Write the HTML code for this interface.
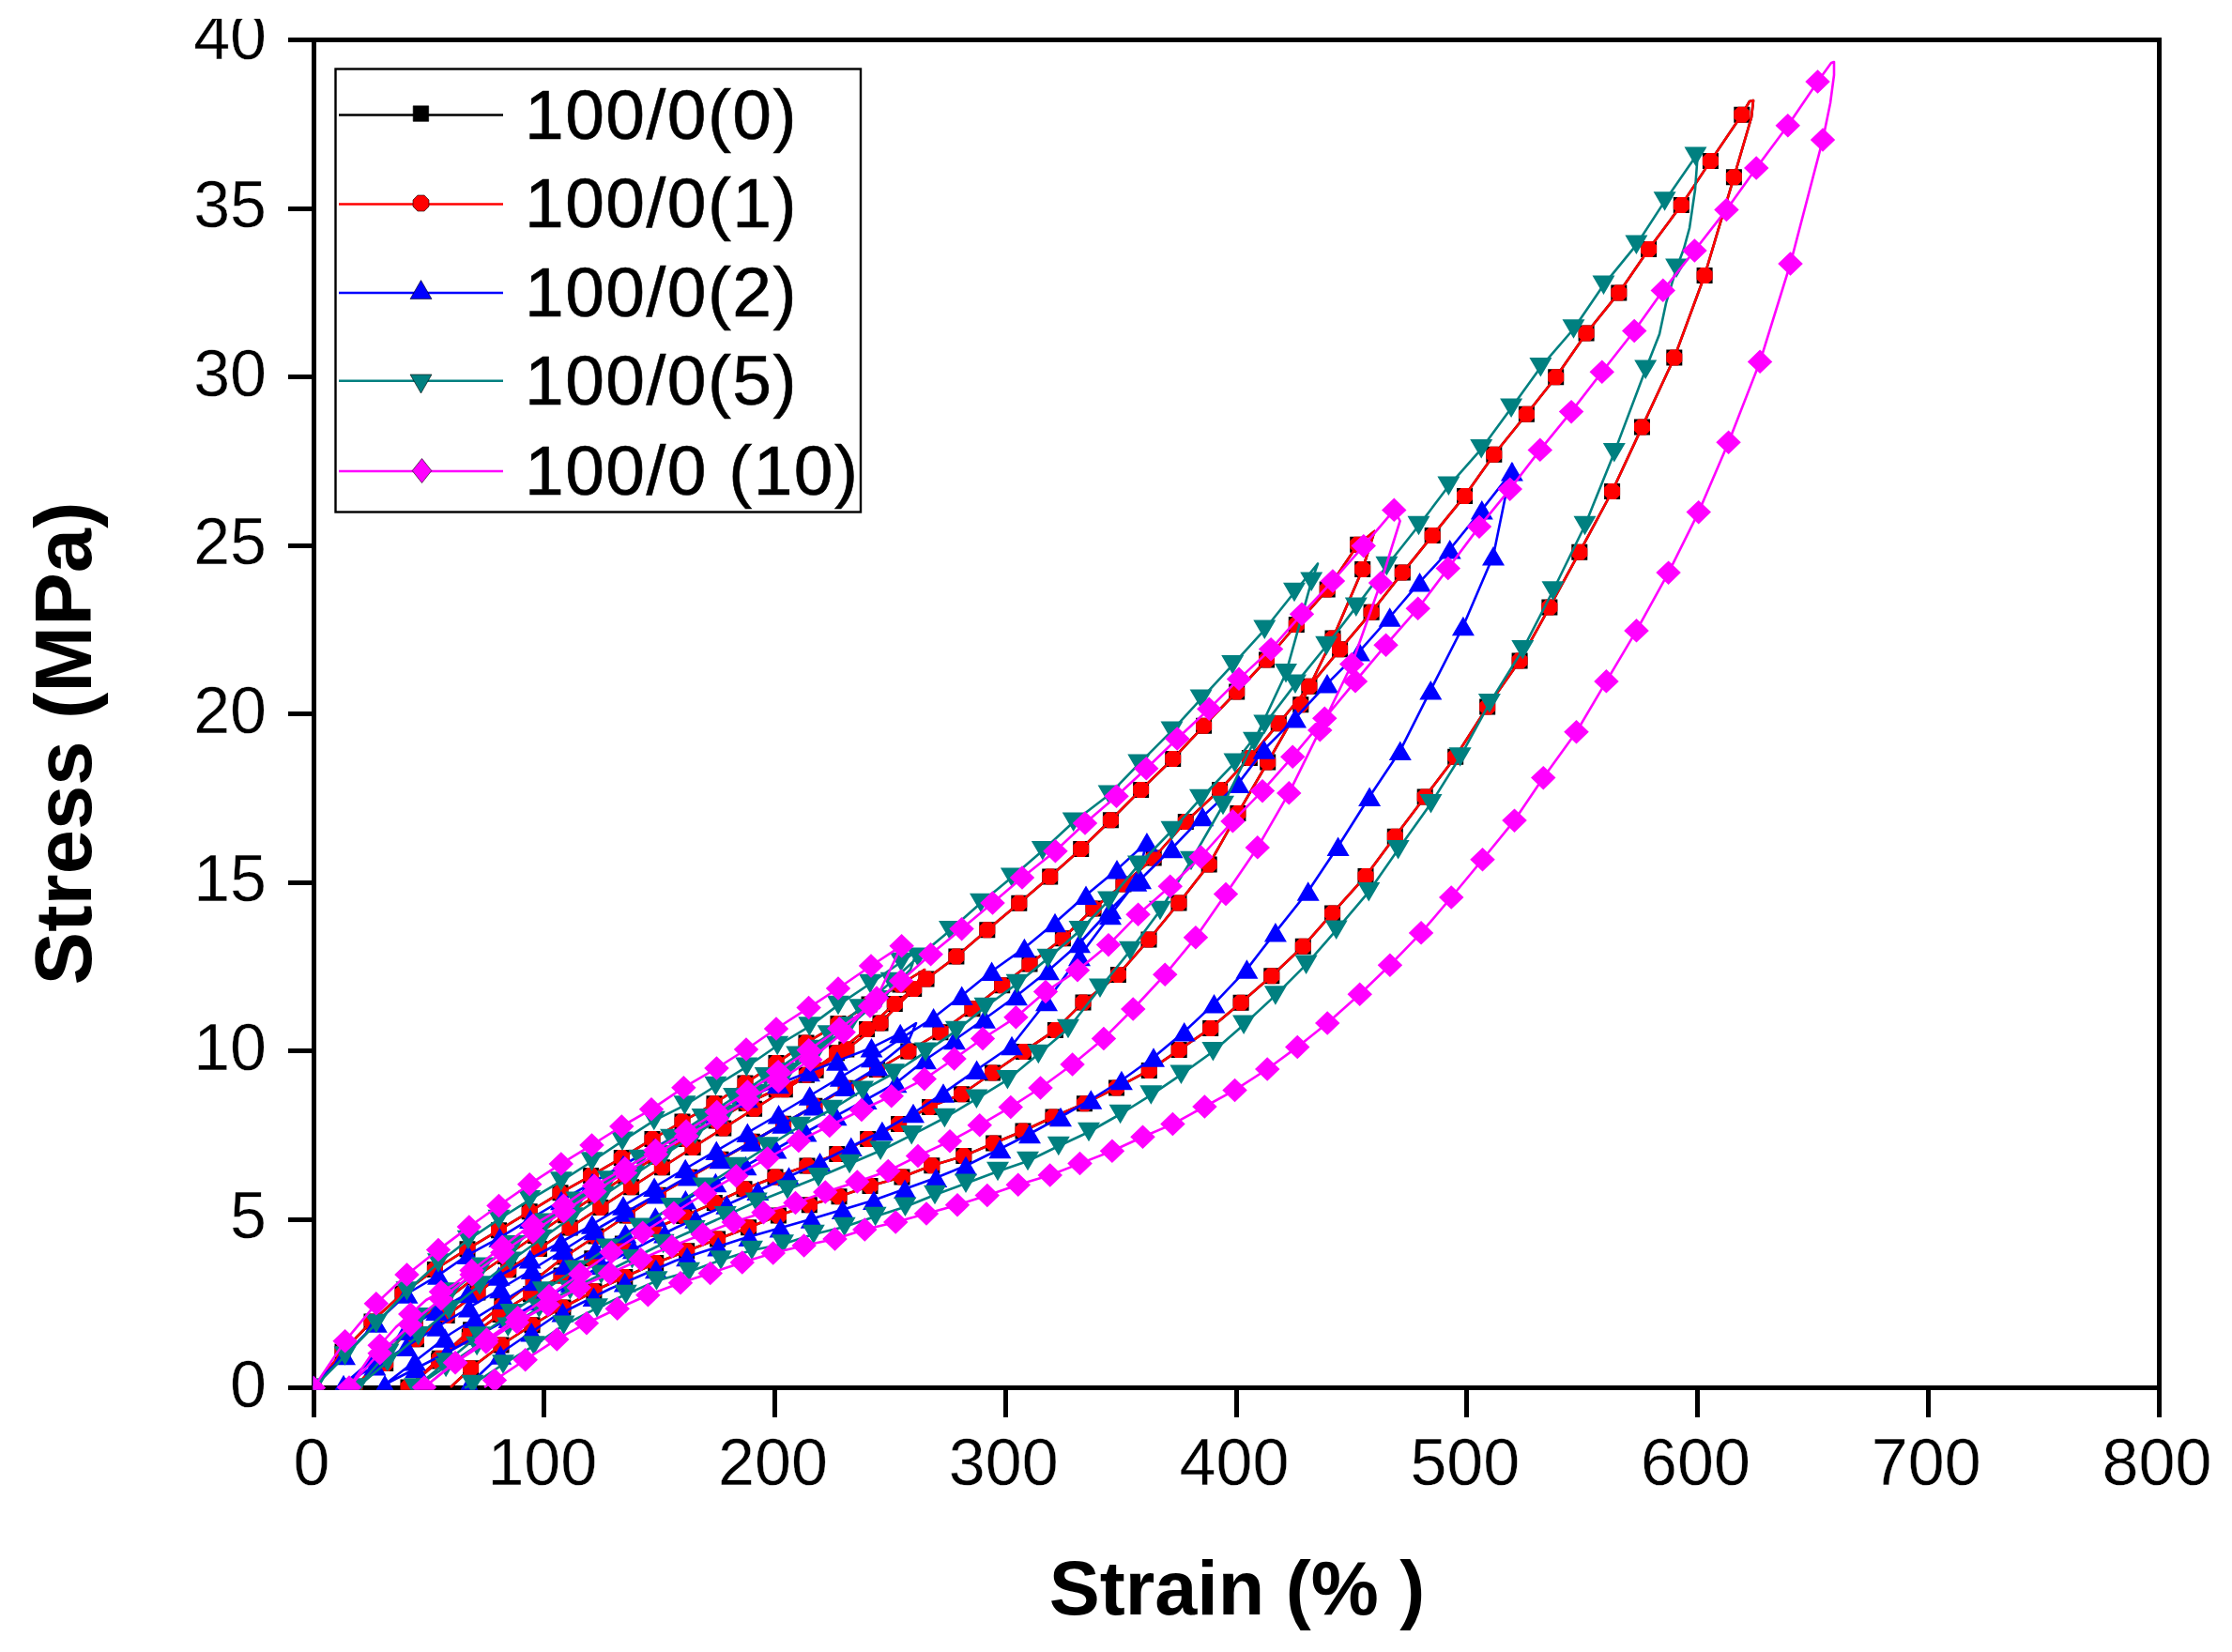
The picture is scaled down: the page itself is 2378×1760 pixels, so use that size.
<!DOCTYPE html>
<html><head><meta charset="utf-8"><title>Stress-Strain</title>
<style>html,body{margin:0;padding:0;background:#fff}svg{display:block}</style></head>
<body>
<svg width="2378" height="1760" viewBox="0 0 2378 1760">
<rect width="2378" height="1760" fill="#fff"/>
<defs><clipPath id="pc"><rect x="333.5" y="40" width="1969" height="1440.8"/></clipPath><clipPath id="tc"><rect x="0" y="20" width="2378" height="1740"/></clipPath></defs>
<g stroke="#000" stroke-width="5" fill="none" shape-rendering="crispEdges">
<rect x="334.0" y="42.5" width="1966.0" height="1436.0"/>
<path d="M334 1478.5V1510M579.8 1478.5V1510M825.5 1478.5V1510M1071.2 1478.5V1510M1317 1478.5V1510M1562.8 1478.5V1510M1808.5 1478.5V1510M2054.2 1478.5V1510M2300 1478.5V1510M334 1478.5H307M334 1299H307M334 1119.5H307M334 940H307M334 760.5H307M334 581H307M334 401.5H307M334 222H307M334 42.5H307"/>
</g>
<g font-family="'Liberation Sans', Arial, sans-serif" font-size="70" fill="#000" stroke="#fff" stroke-width="0.4" clip-path="url(#tc)">
<text x="332" y="1582" text-anchor="middle">0</text>
<text x="577.8" y="1582" text-anchor="middle">100</text>
<text x="823.5" y="1582" text-anchor="middle">200</text>
<text x="1069.2" y="1582" text-anchor="middle">300</text>
<text x="1315" y="1582" text-anchor="middle">400</text>
<text x="1560.8" y="1582" text-anchor="middle">500</text>
<text x="1806.5" y="1582" text-anchor="middle">600</text>
<text x="2052.2" y="1582" text-anchor="middle">700</text>
<text x="2298" y="1582" text-anchor="middle">800</text>
<text x="284" y="1498.5" text-anchor="end">0</text>
<text x="284" y="1319" text-anchor="end">5</text>
<text x="284" y="1139.5" text-anchor="end">10</text>
<text x="284" y="960" text-anchor="end">15</text>
<text x="284" y="780.5" text-anchor="end">20</text>
<text x="284" y="601" text-anchor="end">25</text>
<text x="284" y="421.5" text-anchor="end">30</text>
<text x="284" y="242" text-anchor="end">35</text>
<text x="284" y="62.5" text-anchor="end">40</text>
</g>
<g font-family="'Liberation Sans', Arial, sans-serif" font-weight="bold" fill="#000">
<text x="1318" y="1719.5" font-size="81" text-anchor="middle">Strain (% )</text>
<text transform="translate(97.3 792) rotate(-90)" font-size="85" text-anchor="middle">Stress (MPa)</text>
</g>
<g clip-path="url(#pc)">
<path d="M334 1478.5 L365 1440 L396 1408 L429 1378 L463.4 1352.5 L498 1330.7 L531.5 1310.7 L564.2 1290.8 L597 1270.8 L629.6 1252.6 L662.3 1233.6 L695 1213.6 L727 1195 L761 1175.7 L794 1154 L827 1132.6 L859 1111 L893 1090.6 L926 1070 L959 1049 L985 1033 L973.7 1053.6 L938 1090 L901.8 1118 L865 1143 L820 1171 L750 1215 L680 1260 L610 1306 L540 1354 L470 1406 L410 1453 L378 1478 L440 1412 L510 1358 L590 1303 L690 1238 L790 1178 L857 1147 L890 1123 L923.6 1096.4 L953.3 1069.5 L987 1043 L1018.9 1019.1 L1051.8 990.7 L1085.8 962.3 L1118.7 934 L1151.7 904.5 L1183.4 873.8 L1215.6 841.4 L1249.7 808.5 L1282.6 773.3 L1317.7 737 L1349.5 703 L1381.3 665.5 L1414.2 628.1 L1446.7 580.2 L1464.4 566 L1451.7 606.5 L1420 680 L1385.8 750.7 L1350.7 812 L1318.9 866.4 L1288.2 920.9 L1256 962 L1224 1001 L1191.4 1038.4 L1154 1067.9 L1124.4 1097.4 L1090.4 1120.4 L1057.5 1143 L1024.6 1165.8 L990.5 1179.4 L957.6 1197.6 L924.7 1213.5 L891.8 1229.4 L860 1241.9 L826 1254 L793 1266.8 L761.3 1281.6 L690 1312 L620 1346 L550 1388 L485 1435 L435 1478 L500 1418 L600 1340 L700 1274 L800 1217 L900 1160 L967.8 1120 L1001.9 1099.7 L1036 1074.7 L1067.7 1049.7 L1097 1027 L1132.4 999.8 L1165 968 L1197 942 L1229.2 914 L1263.3 875.5 L1299.6 841.4 L1331.4 807.4 L1362.3 770.8 L1394.9 731.3 L1427.6 691.8 L1461.1 652.3 L1494.3 610.1 L1526.2 570.6 L1560.5 528.4 L1591.8 484.3 L1626.4 441.3 L1657.7 401.8 L1690.1 355 L1724.8 311.9 L1756.6 265.4 L1791.3 218.6 L1822.4 171.6 L1855.8 122.2 L1864 108 L1868 107 L1866 125 L1847.4 188.7 L1816.1 293.5 L1783.8 381.1 L1749.5 454.9 L1717.6 523.5 L1682.8 588.3 L1650.9 646.9 L1619.1 704.1 L1584.7 753.1 L1550.7 806.2 L1518.2 849 L1486.3 891.2 L1455 933.4 L1419.6 972.9 L1388.3 1008.3 L1354.8 1039.7 L1322.1 1068.2 L1289.7 1095.5 L1256.2 1118.6 L1224.3 1140.4 L1189.5 1158.9 L1155.4 1175.8 L1122 1190 L1090 1205 L1058.6 1218 L1026.8 1231.6 L992.8 1241.8 L961 1254 L927 1263.4 L894 1274.8 L862.3 1283.8 L829.4 1295 L797.6 1307.7 L765 1320 L700 1345 L640 1372 L590 1398 L560 1416 L534 1433 L501.6 1457.8 L480 1478" fill="none" stroke="#000000" stroke-width="2.6" stroke-linejoin="round"/>
<path d="M325.5 1470h17v17h-17zM356.5 1431.5h17v17h-17zM387.5 1399.5h17v17h-17zM420.5 1369.5h17v17h-17zM454.9 1344h17v17h-17zM489.5 1322.2h17v17h-17zM523 1302.2h17v17h-17zM555.7 1282.3h17v17h-17zM588.5 1262.3h17v17h-17zM621.1 1244.1h17v17h-17zM653.8 1225.1h17v17h-17zM686.5 1205.1h17v17h-17zM718.5 1186.5h17v17h-17zM752.5 1167.2h17v17h-17zM785.5 1145.5h17v17h-17zM818.5 1124.1h17v17h-17zM850.5 1102.5h17v17h-17zM884.5 1082.1h17v17h-17zM917.5 1061.5h17v17h-17zM950.5 1040.5h17v17h-17zM965.2 1045.1h17v17h-17zM929.5 1081.5h17v17h-17zM893.3 1109.5h17v17h-17zM860.6 1131.7h17v17h-17zM827.8 1152.3h17v17h-17zM795.1 1172.8h17v17h-17zM762.3 1193.4h17v17h-17zM729.6 1214.1h17v17h-17zM696.9 1235.2h17v17h-17zM664.1 1256.3h17v17h-17zM631.4 1277.9h17v17h-17zM598.7 1299.4h17v17h-17zM565.9 1321.9h17v17h-17zM533.2 1344.3h17v17h-17zM500.4 1368.6h17v17h-17zM467.7 1392.9h17v17h-17zM435 1418.3h17v17h-17zM402.2 1443.9h17v17h-17zM369.5 1469.5h17v17h-17zM401.6 1435.3h17v17h-17zM433.7 1401.8h17v17h-17zM465.8 1377.1h17v17h-17zM497.9 1352.3h17v17h-17zM530 1329.9h17v17h-17zM562.1 1307.9h17v17h-17zM594.2 1286.3h17v17h-17zM626.3 1265.4h17v17h-17zM658.3 1244.5h17v17h-17zM690.4 1224.1h17v17h-17zM722.5 1204.9h17v17h-17zM754.6 1185.6h17v17h-17zM786.7 1167.1h17v17h-17zM818.8 1152.2h17v17h-17zM850.9 1136.7h17v17h-17zM883 1113.3h17v17h-17zM915.1 1087.9h17v17h-17zM944.8 1061h17v17h-17zM978.5 1034.5h17v17h-17zM1010.4 1010.6h17v17h-17zM1043.3 982.2h17v17h-17zM1077.3 953.8h17v17h-17zM1110.2 925.5h17v17h-17zM1143.2 896h17v17h-17zM1174.9 865.3h17v17h-17zM1207.1 832.9h17v17h-17zM1241.2 800h17v17h-17zM1274.1 764.8h17v17h-17zM1309.2 728.5h17v17h-17zM1341 694.5h17v17h-17zM1372.8 657h17v17h-17zM1405.7 619.6h17v17h-17zM1438.2 571.7h17v17h-17zM1443.2 598h17v17h-17zM1411.5 671.5h17v17h-17zM1377.3 742.2h17v17h-17zM1342.2 803.5h17v17h-17zM1310.4 857.9h17v17h-17zM1279.7 912.4h17v17h-17zM1247.5 953.5h17v17h-17zM1215.5 992.5h17v17h-17zM1182.9 1029.9h17v17h-17zM1145.5 1059.4h17v17h-17zM1115.9 1088.9h17v17h-17zM1081.9 1111.9h17v17h-17zM1049 1134.5h17v17h-17zM1016.1 1157.3h17v17h-17zM982 1170.9h17v17h-17zM949.1 1189.1h17v17h-17zM916.2 1205h17v17h-17zM883.3 1220.9h17v17h-17zM851.5 1233.4h17v17h-17zM817.5 1245.5h17v17h-17zM784.5 1258.3h17v17h-17zM752.8 1273.1h17v17h-17zM720.2 1287h17v17h-17zM687.5 1300.9h17v17h-17zM654.9 1316.4h17v17h-17zM622.3 1332.3h17v17h-17zM589.6 1350.6h17v17h-17zM557 1370.2h17v17h-17zM524.4 1391.9h17v17h-17zM491.8 1415.5h17v17h-17zM459.1 1441.4h17v17h-17zM426.5 1469.5h17v17h-17zM459.8 1438.8h17v17h-17zM493.1 1408.3h17v17h-17zM526.4 1382.3h17v17h-17zM559.7 1356.3h17v17h-17zM593 1330.5h17v17h-17zM626.3 1308.5h17v17h-17zM659.6 1286.6h17v17h-17zM692.9 1264.7h17v17h-17zM726.2 1245.7h17v17h-17zM759.5 1226.7h17v17h-17zM792.8 1207.8h17v17h-17zM826.1 1188.8h17v17h-17zM859.4 1169.8h17v17h-17zM892.7 1150.8h17v17h-17zM926 1131.1h17v17h-17zM959.3 1111.5h17v17h-17zM993.4 1091.2h17v17h-17zM1027.5 1066.2h17v17h-17zM1059.2 1041.2h17v17h-17zM1088.5 1018.5h17v17h-17zM1123.9 991.3h17v17h-17zM1156.5 959.5h17v17h-17zM1188.5 933.5h17v17h-17zM1220.7 905.5h17v17h-17zM1254.8 867h17v17h-17zM1291.1 832.9h17v17h-17zM1322.9 798.9h17v17h-17zM1353.8 762.3h17v17h-17zM1386.4 722.8h17v17h-17zM1419.1 683.3h17v17h-17zM1452.6 643.8h17v17h-17zM1485.8 601.6h17v17h-17zM1517.7 562.1h17v17h-17zM1552 519.9h17v17h-17zM1583.3 475.8h17v17h-17zM1617.9 432.8h17v17h-17zM1649.2 393.3h17v17h-17zM1681.6 346.5h17v17h-17zM1716.3 303.4h17v17h-17zM1748.1 256.9h17v17h-17zM1782.8 210.1h17v17h-17zM1813.9 163.1h17v17h-17zM1847.3 113.7h17v17h-17zM1838.9 180.2h17v17h-17zM1807.6 285h17v17h-17zM1775.3 372.6h17v17h-17zM1741 446.4h17v17h-17zM1709.1 515h17v17h-17zM1674.3 579.8h17v17h-17zM1642.4 638.4h17v17h-17zM1610.6 695.6h17v17h-17zM1576.2 744.6h17v17h-17zM1542.2 797.7h17v17h-17zM1509.7 840.5h17v17h-17zM1477.8 882.7h17v17h-17zM1446.5 924.9h17v17h-17zM1411.1 964.4h17v17h-17zM1379.8 999.8h17v17h-17zM1346.3 1031.2h17v17h-17zM1313.6 1059.7h17v17h-17zM1281.2 1087h17v17h-17zM1247.7 1110.1h17v17h-17zM1215.8 1131.9h17v17h-17zM1181 1150.4h17v17h-17zM1146.9 1167.3h17v17h-17zM1113.5 1181.5h17v17h-17zM1081.5 1196.5h17v17h-17zM1050.1 1209.5h17v17h-17zM1018.3 1223.1h17v17h-17zM984.3 1233.3h17v17h-17zM952.5 1245.5h17v17h-17zM918.5 1254.9h17v17h-17zM885.5 1266.3h17v17h-17zM853.8 1275.3h17v17h-17zM820.9 1286.5h17v17h-17zM789.1 1299.2h17v17h-17zM756.1 1311.6h17v17h-17zM723.2 1324.3h17v17h-17zM690.2 1337.1h17v17h-17zM657.3 1351.9h17v17h-17zM624.4 1367.2h17v17h-17zM591.4 1384.4h17v17h-17zM558.5 1403.3h17v17h-17zM525.5 1424.5h17v17h-17zM493.1 1449.3h17v17h-17z" fill="#000000"/>
<path d="M334 1478.5 L365 1440 L396 1408 L429 1378 L463.4 1352.5 L498 1330.7 L531.5 1310.7 L564.2 1290.8 L597 1270.8 L629.6 1252.6 L662.3 1233.6 L695 1213.6 L727 1195 L761 1175.7 L794 1154 L827 1132.6 L859 1111 L893 1090.6 L926 1070 L959 1049 L985 1033 L973.7 1053.6 L938 1090 L901.8 1118 L865 1143 L820 1171 L750 1215 L680 1260 L610 1306 L540 1354 L470 1406 L410 1453 L378 1478 L440 1412 L510 1358 L590 1303 L690 1238 L790 1178 L857 1147 L890 1123 L923.6 1096.4 L953.3 1069.5 L987 1043 L1018.9 1019.1 L1051.8 990.7 L1085.8 962.3 L1118.7 934 L1151.7 904.5 L1183.4 873.8 L1215.6 841.4 L1249.7 808.5 L1282.6 773.3 L1317.7 737 L1349.5 703 L1381.3 665.5 L1414.2 628.1 L1446.7 580.2 L1464.4 566 L1451.7 606.5 L1420 680 L1385.8 750.7 L1350.7 812 L1318.9 866.4 L1288.2 920.9 L1256 962 L1224 1001 L1191.4 1038.4 L1154 1067.9 L1124.4 1097.4 L1090.4 1120.4 L1057.5 1143 L1024.6 1165.8 L990.5 1179.4 L957.6 1197.6 L924.7 1213.5 L891.8 1229.4 L860 1241.9 L826 1254 L793 1266.8 L761.3 1281.6 L690 1312 L620 1346 L550 1388 L485 1435 L435 1478 L500 1418 L600 1340 L700 1274 L800 1217 L900 1160 L967.8 1120 L1001.9 1099.7 L1036 1074.7 L1067.7 1049.7 L1097 1027 L1132.4 999.8 L1165 968 L1197 942 L1229.2 914 L1263.3 875.5 L1299.6 841.4 L1331.4 807.4 L1362.3 770.8 L1394.9 731.3 L1427.6 691.8 L1461.1 652.3 L1494.3 610.1 L1526.2 570.6 L1560.5 528.4 L1591.8 484.3 L1626.4 441.3 L1657.7 401.8 L1690.1 355 L1724.8 311.9 L1756.6 265.4 L1791.3 218.6 L1822.4 171.6 L1855.8 122.2 L1864 108 L1868 107 L1866 125 L1847.4 188.7 L1816.1 293.5 L1783.8 381.1 L1749.5 454.9 L1717.6 523.5 L1682.8 588.3 L1650.9 646.9 L1619.1 704.1 L1584.7 753.1 L1550.7 806.2 L1518.2 849 L1486.3 891.2 L1455 933.4 L1419.6 972.9 L1388.3 1008.3 L1354.8 1039.7 L1322.1 1068.2 L1289.7 1095.5 L1256.2 1118.6 L1224.3 1140.4 L1189.5 1158.9 L1155.4 1175.8 L1122 1190 L1090 1205 L1058.6 1218 L1026.8 1231.6 L992.8 1241.8 L961 1254 L927 1263.4 L894 1274.8 L862.3 1283.8 L829.4 1295 L797.6 1307.7 L765 1320 L700 1345 L640 1372 L590 1398 L560 1416 L534 1433 L501.6 1457.8 L480 1478" fill="none" stroke="#ff0000" stroke-width="2.6" stroke-linejoin="round"/>
<path d="M330.1 1470H337.9L342.5 1474.6V1482.4L337.9 1487H330.1L325.5 1482.4V1474.6zM361.1 1431.5H368.9L373.5 1436.1V1443.9L368.9 1448.5H361.1L356.5 1443.9V1436.1zM392.1 1399.5H399.9L404.5 1404.1V1411.9L399.9 1416.5H392.1L387.5 1411.9V1404.1zM425.1 1369.5H432.9L437.5 1374.1V1381.9L432.9 1386.5H425.1L420.5 1381.9V1374.1zM459.5 1344H467.3L471.9 1348.6V1356.4L467.3 1361H459.5L454.9 1356.4V1348.6zM494.1 1322.2H501.9L506.5 1326.8V1334.6L501.9 1339.2H494.1L489.5 1334.6V1326.8zM527.6 1302.2H535.4L540 1306.8V1314.6L535.4 1319.2H527.6L523 1314.6V1306.8zM560.3 1282.3H568.1L572.7 1286.9V1294.7L568.1 1299.3H560.3L555.7 1294.7V1286.9zM593.1 1262.3H600.9L605.5 1266.9V1274.7L600.9 1279.3H593.1L588.5 1274.7V1266.9zM625.7 1244.1H633.5L638.1 1248.7V1256.5L633.5 1261.1H625.7L621.1 1256.5V1248.7zM658.4 1225.1H666.2L670.8 1229.7V1237.5L666.2 1242.1H658.4L653.8 1237.5V1229.7zM691.1 1205.1H698.9L703.5 1209.7V1217.5L698.9 1222.1H691.1L686.5 1217.5V1209.7zM723.1 1186.5H730.9L735.5 1191.1V1198.9L730.9 1203.5H723.1L718.5 1198.9V1191.1zM757.1 1167.2H764.9L769.5 1171.8V1179.6L764.9 1184.2H757.1L752.5 1179.6V1171.8zM790.1 1145.5H797.9L802.5 1150.1V1157.9L797.9 1162.5H790.1L785.5 1157.9V1150.1zM823.1 1124.1H830.9L835.5 1128.7V1136.5L830.9 1141.1H823.1L818.5 1136.5V1128.7zM855.1 1102.5H862.9L867.5 1107.1V1114.9L862.9 1119.5H855.1L850.5 1114.9V1107.1zM889.1 1082.1H896.9L901.5 1086.7V1094.5L896.9 1099.1H889.1L884.5 1094.5V1086.7zM922.1 1061.5H929.9L934.5 1066.1V1073.9L929.9 1078.5H922.1L917.5 1073.9V1066.1zM955.1 1040.5H962.9L967.5 1045.1V1052.9L962.9 1057.5H955.1L950.5 1052.9V1045.1zM969.8 1045.1H977.6L982.2 1049.7V1057.5L977.6 1062.1H969.8L965.2 1057.5V1049.7zM934.1 1081.5H941.9L946.5 1086.1V1093.9L941.9 1098.5H934.1L929.5 1093.9V1086.1zM897.9 1109.5H905.7L910.3 1114.1V1121.9L905.7 1126.5H897.9L893.3 1121.9V1114.1zM865.2 1131.7H873L877.6 1136.3V1144.1L873 1148.7H865.2L860.6 1144.1V1136.3zM832.4 1152.3H840.2L844.8 1156.9V1164.7L840.2 1169.3H832.4L827.8 1164.7V1156.9zM799.7 1172.8H807.5L812.1 1177.4V1185.2L807.5 1189.8H799.7L795.1 1185.2V1177.4zM766.9 1193.4H774.7L779.3 1198V1205.8L774.7 1210.4H766.9L762.3 1205.8V1198zM734.2 1214.1H742L746.6 1218.7V1226.5L742 1231.1H734.2L729.6 1226.5V1218.7zM701.5 1235.2H709.3L713.9 1239.8V1247.6L709.3 1252.2H701.5L696.9 1247.6V1239.8zM668.7 1256.3H676.5L681.1 1260.9V1268.7L676.5 1273.3H668.7L664.1 1268.7V1260.9zM636 1277.9H643.8L648.4 1282.5V1290.3L643.8 1294.9H636L631.4 1290.3V1282.5zM603.3 1299.4H611.1L615.7 1304V1311.8L611.1 1316.4H603.3L598.7 1311.8V1304zM570.5 1321.9H578.3L582.9 1326.5V1334.3L578.3 1338.9H570.5L565.9 1334.3V1326.5zM537.8 1344.3H545.6L550.2 1348.9V1356.7L545.6 1361.3H537.8L533.2 1356.7V1348.9zM505.1 1368.6H512.9L517.5 1373.2V1381L512.9 1385.6H505.1L500.4 1381V1373.2zM472.3 1392.9H480.1L484.7 1397.5V1405.3L480.1 1409.9H472.3L467.7 1405.3V1397.5zM439.6 1418.3H447.4L452 1422.9V1430.7L447.4 1435.3H439.6L435 1430.7V1422.9zM406.8 1443.9H414.6L419.2 1448.5V1456.3L414.6 1460.9H406.8L402.2 1456.3V1448.5zM374.1 1469.5H381.9L386.5 1474.1V1481.9L381.9 1486.5H374.1L369.5 1481.9V1474.1zM406.2 1435.3H414L418.6 1439.9V1447.7L414 1452.3H406.2L401.6 1447.7V1439.9zM438.3 1401.8H446.1L450.7 1406.4V1414.2L446.1 1418.8H438.3L433.7 1414.2V1406.4zM470.4 1377.1H478.2L482.8 1381.7V1389.5L478.2 1394.1H470.4L465.8 1389.5V1381.7zM502.5 1352.3H510.3L514.9 1356.9V1364.7L510.3 1369.3H502.5L497.9 1364.7V1356.9zM534.6 1329.9H542.4L547 1334.5V1342.3L542.4 1346.9H534.6L530 1342.3V1334.5zM566.7 1307.9H574.5L579.1 1312.5V1320.3L574.5 1324.9H566.7L562.1 1320.3V1312.5zM598.8 1286.3H606.6L611.2 1290.9V1298.7L606.6 1303.3H598.8L594.2 1298.7V1290.9zM630.9 1265.4H638.7L643.3 1270V1277.8L638.7 1282.4H630.9L626.3 1277.8V1270zM662.9 1244.5H670.7L675.3 1249.1V1256.9L670.7 1261.5H662.9L658.3 1256.9V1249.1zM695 1224.1H702.8L707.4 1228.7V1236.5L702.8 1241.1H695L690.4 1236.5V1228.7zM727.1 1204.9H734.9L739.5 1209.5V1217.3L734.9 1221.9H727.1L722.5 1217.3V1209.5zM759.2 1185.6H767L771.6 1190.2V1198L767 1202.6H759.2L754.6 1198V1190.2zM791.3 1167.1H799.1L803.7 1171.7V1179.5L799.1 1184.1H791.3L786.7 1179.5V1171.7zM823.4 1152.2H831.2L835.8 1156.8V1164.6L831.2 1169.2H823.4L818.8 1164.6V1156.8zM855.5 1136.7H863.3L867.9 1141.3V1149.1L863.3 1153.7H855.5L850.9 1149.1V1141.3zM887.6 1113.3H895.4L900 1117.9V1125.7L895.4 1130.3H887.6L883 1125.7V1117.9zM919.7 1087.9H927.5L932.1 1092.5V1100.3L927.5 1104.9H919.7L915.1 1100.3V1092.5zM949.4 1061H957.2L961.8 1065.6V1073.4L957.2 1078H949.4L944.8 1073.4V1065.6zM983.1 1034.5H990.9L995.5 1039.1V1046.9L990.9 1051.5H983.1L978.5 1046.9V1039.1zM1015 1010.6H1022.8L1027.4 1015.2V1023L1022.8 1027.6H1015L1010.4 1023V1015.2zM1047.9 982.2H1055.7L1060.3 986.8V994.6L1055.7 999.2H1047.9L1043.3 994.6V986.8zM1081.9 953.8H1089.7L1094.3 958.4V966.2L1089.7 970.8H1081.9L1077.3 966.2V958.4zM1114.8 925.5H1122.6L1127.2 930.1V937.9L1122.6 942.5H1114.8L1110.2 937.9V930.1zM1147.8 896H1155.6L1160.2 900.6V908.4L1155.6 913H1147.8L1143.2 908.4V900.6zM1179.5 865.3H1187.3L1191.9 869.9V877.7L1187.3 882.3H1179.5L1174.9 877.7V869.9zM1211.7 832.9H1219.5L1224.1 837.5V845.3L1219.5 849.9H1211.7L1207.1 845.3V837.5zM1245.8 800H1253.6L1258.2 804.6V812.4L1253.6 817H1245.8L1241.2 812.4V804.6zM1278.7 764.8H1286.5L1291.1 769.4V777.2L1286.5 781.8H1278.7L1274.1 777.2V769.4zM1313.8 728.5H1321.6L1326.2 733.1V740.9L1321.6 745.5H1313.8L1309.2 740.9V733.1zM1345.6 694.5H1353.4L1358 699.1V706.9L1353.4 711.5H1345.6L1341 706.9V699.1zM1377.4 657H1385.2L1389.8 661.6V669.4L1385.2 674H1377.4L1372.8 669.4V661.6zM1410.3 619.6H1418.1L1422.7 624.2V632L1418.1 636.6H1410.3L1405.7 632V624.2zM1442.8 571.7H1450.6L1455.2 576.3V584.1L1450.6 588.7H1442.8L1438.2 584.1V576.3zM1447.8 598H1455.6L1460.2 602.6V610.4L1455.6 615H1447.8L1443.2 610.4V602.6zM1416.1 671.5H1423.9L1428.5 676.1V683.9L1423.9 688.5H1416.1L1411.5 683.9V676.1zM1381.9 742.2H1389.7L1394.3 746.8V754.6L1389.7 759.2H1381.9L1377.3 754.6V746.8zM1346.8 803.5H1354.6L1359.2 808.1V815.9L1354.6 820.5H1346.8L1342.2 815.9V808.1zM1315 857.9H1322.8L1327.4 862.5V870.3L1322.8 874.9H1315L1310.4 870.3V862.5zM1284.3 912.4H1292.1L1296.7 917V924.8L1292.1 929.4H1284.3L1279.7 924.8V917zM1252.1 953.5H1259.9L1264.5 958.1V965.9L1259.9 970.5H1252.1L1247.5 965.9V958.1zM1220.1 992.5H1227.9L1232.5 997.1V1004.9L1227.9 1009.5H1220.1L1215.5 1004.9V997.1zM1187.5 1029.9H1195.3L1199.9 1034.5V1042.3L1195.3 1046.9H1187.5L1182.9 1042.3V1034.5zM1150.1 1059.4H1157.9L1162.5 1064V1071.8L1157.9 1076.4H1150.1L1145.5 1071.8V1064zM1120.5 1088.9H1128.3L1132.9 1093.5V1101.3L1128.3 1105.9H1120.5L1115.9 1101.3V1093.5zM1086.5 1111.9H1094.3L1098.9 1116.5V1124.3L1094.3 1128.9H1086.5L1081.9 1124.3V1116.5zM1053.6 1134.5H1061.4L1066 1139.1V1146.9L1061.4 1151.5H1053.6L1049 1146.9V1139.1zM1020.7 1157.3H1028.5L1033.1 1161.9V1169.7L1028.5 1174.3H1020.7L1016.1 1169.7V1161.9zM986.6 1170.9H994.4L999 1175.5V1183.3L994.4 1187.9H986.6L982 1183.3V1175.5zM953.7 1189.1H961.5L966.1 1193.7V1201.5L961.5 1206.1H953.7L949.1 1201.5V1193.7zM920.8 1205H928.6L933.2 1209.6V1217.4L928.6 1222H920.8L916.2 1217.4V1209.6zM887.9 1220.9H895.7L900.3 1225.5V1233.3L895.7 1237.9H887.9L883.3 1233.3V1225.5zM856.1 1233.4H863.9L868.5 1238V1245.8L863.9 1250.4H856.1L851.5 1245.8V1238zM822.1 1245.5H829.9L834.5 1250.1V1257.9L829.9 1262.5H822.1L817.5 1257.9V1250.1zM789.1 1258.3H796.9L801.5 1262.9V1270.7L796.9 1275.3H789.1L784.5 1270.7V1262.9zM757.4 1273.1H765.2L769.8 1277.7V1285.5L765.2 1290.1H757.4L752.8 1285.5V1277.7zM724.8 1287H732.6L737.2 1291.6V1299.4L732.6 1304H724.8L720.2 1299.4V1291.6zM692.1 1300.9H699.9L704.5 1305.5V1313.3L699.9 1317.9H692.1L687.5 1313.3V1305.5zM659.5 1316.4H667.3L671.9 1321V1328.8L667.3 1333.4H659.5L654.9 1328.8V1321zM626.9 1332.3H634.7L639.3 1336.9V1344.7L634.7 1349.3H626.9L622.3 1344.7V1336.9zM594.2 1350.6H602L606.6 1355.2V1363L602 1367.6H594.2L589.6 1363V1355.2zM561.6 1370.2H569.4L574 1374.8V1382.6L569.4 1387.2H561.6L557 1382.6V1374.8zM529 1391.9H536.8L541.4 1396.5V1404.3L536.8 1408.9H529L524.4 1404.3V1396.5zM496.4 1415.5H504.2L508.8 1420.1V1427.9L504.2 1432.5H496.4L491.8 1427.9V1420.1zM463.7 1441.4H471.5L476.1 1446V1453.8L471.5 1458.4H463.7L459.1 1453.8V1446zM431.1 1469.5H438.9L443.5 1474.1V1481.9L438.9 1486.5H431.1L426.5 1481.9V1474.1zM464.4 1438.8H472.2L476.8 1443.4V1451.2L472.2 1455.8H464.4L459.8 1451.2V1443.4zM497.7 1408.3H505.5L510.1 1412.9V1420.7L505.5 1425.3H497.7L493.1 1420.7V1412.9zM531 1382.3H538.8L543.4 1386.9V1394.7L538.8 1399.3H531L526.4 1394.7V1386.9zM564.3 1356.3H572.1L576.7 1360.9V1368.7L572.1 1373.3H564.3L559.7 1368.7V1360.9zM597.6 1330.5H605.4L610 1335.1V1342.9L605.4 1347.5H597.6L593 1342.9V1335.1zM630.9 1308.5H638.7L643.3 1313.1V1320.9L638.7 1325.5H630.9L626.3 1320.9V1313.1zM664.2 1286.6H672L676.6 1291.2V1299L672 1303.6H664.2L659.6 1299V1291.2zM697.5 1264.7H705.3L709.9 1269.3V1277.1L705.3 1281.7H697.5L692.9 1277.1V1269.3zM730.8 1245.7H738.6L743.2 1250.3V1258.1L738.6 1262.7H730.8L726.2 1258.1V1250.3zM764.1 1226.7H771.9L776.5 1231.3V1239.1L771.9 1243.7H764.1L759.5 1239.1V1231.3zM797.4 1207.8H805.2L809.8 1212.4V1220.2L805.2 1224.8H797.4L792.8 1220.2V1212.4zM830.7 1188.8H838.5L843.1 1193.4V1201.2L838.5 1205.8H830.7L826.1 1201.2V1193.4zM864 1169.8H871.8L876.4 1174.4V1182.2L871.8 1186.8H864L859.4 1182.2V1174.4zM897.3 1150.8H905.1L909.7 1155.4V1163.2L905.1 1167.8H897.3L892.7 1163.2V1155.4zM930.6 1131.1H938.4L943 1135.7V1143.5L938.4 1148.1H930.6L926 1143.5V1135.7zM963.9 1111.5H971.7L976.3 1116.1V1123.9L971.7 1128.5H963.9L959.3 1123.9V1116.1zM998 1091.2H1005.8L1010.4 1095.8V1103.6L1005.8 1108.2H998L993.4 1103.6V1095.8zM1032.1 1066.2H1039.9L1044.5 1070.8V1078.6L1039.9 1083.2H1032.1L1027.5 1078.6V1070.8zM1063.8 1041.2H1071.6L1076.2 1045.8V1053.6L1071.6 1058.2H1063.8L1059.2 1053.6V1045.8zM1093.1 1018.5H1100.9L1105.5 1023.1V1030.9L1100.9 1035.5H1093.1L1088.5 1030.9V1023.1zM1128.5 991.3H1136.3L1140.9 995.9V1003.7L1136.3 1008.3H1128.5L1123.9 1003.7V995.9zM1161.1 959.5H1168.9L1173.5 964.1V971.9L1168.9 976.5H1161.1L1156.5 971.9V964.1zM1193.1 933.5H1200.9L1205.5 938.1V945.9L1200.9 950.5H1193.1L1188.5 945.9V938.1zM1225.3 905.5H1233.1L1237.7 910.1V917.9L1233.1 922.5H1225.3L1220.7 917.9V910.1zM1259.4 867H1267.2L1271.8 871.6V879.4L1267.2 884H1259.4L1254.8 879.4V871.6zM1295.7 832.9H1303.5L1308.1 837.5V845.3L1303.5 849.9H1295.7L1291.1 845.3V837.5zM1327.5 798.9H1335.3L1339.9 803.5V811.3L1335.3 815.9H1327.5L1322.9 811.3V803.5zM1358.4 762.3H1366.2L1370.8 766.9V774.7L1366.2 779.3H1358.4L1353.8 774.7V766.9zM1391 722.8H1398.8L1403.4 727.4V735.2L1398.8 739.8H1391L1386.4 735.2V727.4zM1423.7 683.3H1431.5L1436.1 687.9V695.7L1431.5 700.3H1423.7L1419.1 695.7V687.9zM1457.2 643.8H1465L1469.6 648.4V656.2L1465 660.8H1457.2L1452.6 656.2V648.4zM1490.4 601.6H1498.2L1502.8 606.2V614L1498.2 618.6H1490.4L1485.8 614V606.2zM1522.3 562.1H1530.1L1534.7 566.7V574.5L1530.1 579.1H1522.3L1517.7 574.5V566.7zM1556.6 519.9H1564.4L1569 524.5V532.3L1564.4 536.9H1556.6L1552 532.3V524.5zM1587.9 475.8H1595.7L1600.3 480.4V488.2L1595.7 492.8H1587.9L1583.3 488.2V480.4zM1622.5 432.8H1630.3L1634.9 437.4V445.2L1630.3 449.8H1622.5L1617.9 445.2V437.4zM1653.8 393.3H1661.6L1666.2 397.9V405.7L1661.6 410.3H1653.8L1649.2 405.7V397.9zM1686.2 346.5H1694L1698.6 351.1V358.9L1694 363.5H1686.2L1681.6 358.9V351.1zM1720.9 303.4H1728.7L1733.3 308V315.8L1728.7 320.4H1720.9L1716.3 315.8V308zM1752.7 256.9H1760.5L1765.1 261.5V269.3L1760.5 273.9H1752.7L1748.1 269.3V261.5zM1787.4 210.1H1795.2L1799.8 214.7V222.5L1795.2 227.1H1787.4L1782.8 222.5V214.7zM1818.5 163.1H1826.3L1830.9 167.7V175.5L1826.3 180.1H1818.5L1813.9 175.5V167.7zM1851.9 113.7H1859.7L1864.3 118.3V126.1L1859.7 130.7H1851.9L1847.3 126.1V118.3zM1843.5 180.2H1851.3L1855.9 184.8V192.6L1851.3 197.2H1843.5L1838.9 192.6V184.8zM1812.2 285H1820L1824.6 289.6V297.4L1820 302H1812.2L1807.6 297.4V289.6zM1779.9 372.6H1787.7L1792.3 377.2V385L1787.7 389.6H1779.9L1775.3 385V377.2zM1745.6 446.4H1753.4L1758 451V458.8L1753.4 463.4H1745.6L1741 458.8V451zM1713.7 515H1721.5L1726.1 519.6V527.4L1721.5 532H1713.7L1709.1 527.4V519.6zM1678.9 579.8H1686.7L1691.3 584.4V592.2L1686.7 596.8H1678.9L1674.3 592.2V584.4zM1647 638.4H1654.8L1659.4 643V650.8L1654.8 655.4H1647L1642.4 650.8V643zM1615.2 695.6H1623L1627.6 700.2V708L1623 712.6H1615.2L1610.6 708V700.2zM1580.8 744.6H1588.6L1593.2 749.2V757L1588.6 761.6H1580.8L1576.2 757V749.2zM1546.8 797.7H1554.6L1559.2 802.3V810.1L1554.6 814.7H1546.8L1542.2 810.1V802.3zM1514.3 840.5H1522.1L1526.7 845.1V852.9L1522.1 857.5H1514.3L1509.7 852.9V845.1zM1482.4 882.7H1490.2L1494.8 887.3V895.1L1490.2 899.7H1482.4L1477.8 895.1V887.3zM1451.1 924.9H1458.9L1463.5 929.5V937.3L1458.9 941.9H1451.1L1446.5 937.3V929.5zM1415.7 964.4H1423.5L1428.1 969V976.8L1423.5 981.4H1415.7L1411.1 976.8V969zM1384.4 999.8H1392.2L1396.8 1004.4V1012.2L1392.2 1016.8H1384.4L1379.8 1012.2V1004.4zM1350.9 1031.2H1358.7L1363.3 1035.8V1043.6L1358.7 1048.2H1350.9L1346.3 1043.6V1035.8zM1318.2 1059.7H1326L1330.6 1064.3V1072.1L1326 1076.7H1318.2L1313.6 1072.1V1064.3zM1285.8 1087H1293.6L1298.2 1091.6V1099.4L1293.6 1104H1285.8L1281.2 1099.4V1091.6zM1252.3 1110.1H1260.1L1264.7 1114.7V1122.5L1260.1 1127.1H1252.3L1247.7 1122.5V1114.7zM1220.4 1131.9H1228.2L1232.8 1136.5V1144.3L1228.2 1148.9H1220.4L1215.8 1144.3V1136.5zM1185.6 1150.4H1193.4L1198 1155V1162.8L1193.4 1167.4H1185.6L1181 1162.8V1155zM1151.5 1167.3H1159.3L1163.9 1171.9V1179.7L1159.3 1184.3H1151.5L1146.9 1179.7V1171.9zM1118.1 1181.5H1125.9L1130.5 1186.1V1193.9L1125.9 1198.5H1118.1L1113.5 1193.9V1186.1zM1086.1 1196.5H1093.9L1098.5 1201.1V1208.9L1093.9 1213.5H1086.1L1081.5 1208.9V1201.1zM1054.7 1209.5H1062.5L1067.1 1214.1V1221.9L1062.5 1226.5H1054.7L1050.1 1221.9V1214.1zM1022.9 1223.1H1030.7L1035.3 1227.7V1235.5L1030.7 1240.1H1022.9L1018.3 1235.5V1227.7zM988.9 1233.3H996.7L1001.3 1237.9V1245.7L996.7 1250.3H988.9L984.3 1245.7V1237.9zM957.1 1245.5H964.9L969.5 1250.1V1257.9L964.9 1262.5H957.1L952.5 1257.9V1250.1zM923.1 1254.9H930.9L935.5 1259.5V1267.3L930.9 1271.9H923.1L918.5 1267.3V1259.5zM890.1 1266.3H897.9L902.5 1270.9V1278.7L897.9 1283.3H890.1L885.5 1278.7V1270.9zM858.4 1275.3H866.2L870.8 1279.9V1287.7L866.2 1292.3H858.4L853.8 1287.7V1279.9zM825.5 1286.5H833.3L837.9 1291.1V1298.9L833.3 1303.5H825.5L820.9 1298.9V1291.1zM793.7 1299.2H801.5L806.1 1303.8V1311.6L801.5 1316.2H793.7L789.1 1311.6V1303.8zM760.8 1311.6H768.5L773.1 1316.2V1324L768.5 1328.6H760.8L756.1 1324V1316.2zM727.8 1324.3H735.6L740.2 1328.9V1336.7L735.6 1341.3H727.8L723.2 1336.7V1328.9zM694.9 1337.1H702.6L707.2 1341.7V1349.5L702.6 1354.1H694.9L690.2 1349.5V1341.7zM661.9 1351.9H669.7L674.3 1356.5V1364.3L669.7 1368.9H661.9L657.3 1364.3V1356.5zM629 1367.2H636.8L641.4 1371.8V1379.6L636.8 1384.2H629L624.4 1379.6V1371.8zM596 1384.4H603.8L608.4 1389V1396.8L603.8 1401.4H596L591.4 1396.8V1389zM563.1 1403.3H570.9L575.5 1407.9V1415.7L570.9 1420.3H563.1L558.5 1415.7V1407.9zM530.1 1424.5H537.9L542.5 1429.1V1436.9L537.9 1441.5H530.1L525.5 1436.9V1429.1zM497.7 1449.3H505.5L510.1 1453.9V1461.7L505.5 1466.3H497.7L493.1 1461.7V1453.9z" fill="#ff0000"/>
<path d="M334 1475.5 L367 1444 L400.8 1409.4 L433.5 1378.5 L467 1358.6 L498.8 1336.8 L532.4 1318.6 L565 1298.7 L598 1279 L631 1260 L664 1241 L697 1223 L730 1205 L763 1187 L796 1170 L829 1155 L862 1142 L892 1130.4 L928.5 1116.2 L959.2 1100.9 L976 1090 L968 1109 L930 1140 L870 1177 L800 1217 L720 1261 L640 1307 L560 1357 L480 1405 L410 1449 L366 1475 L440 1411 L525 1363 L620 1311 L720 1251 L820 1193 L920 1133 L962 1105 L994.6 1084.3 L1024.7 1060.7 L1056.6 1034.8 L1091.4 1010 L1124 983 L1157 953.7 L1190 926.4 L1221.9 897.3 L1210.3 939.5 L1183 975 L1150 1019 L1115 1067 L1078 1114 L1040.6 1139.8 L1005 1164.6 L973 1186 L940 1205 L870 1240 L800 1272 L720 1308 L640 1349 L560 1395 L480 1439 L410 1475 L480 1421 L570 1365 L680 1307 L780 1250 L870 1200 L922.6 1171.7 L954.5 1154 L986 1129 L1017 1108 L1049 1085.5 L1083 1061 L1117 1034 L1150 1005 L1183 969 L1215 937 L1248.5 904 L1281.2 870 L1319.3 834.6 L1346.7 798.5 L1380 765.1 L1414 728.3 L1448 694.3 L1480.7 657.5 L1512.6 620.2 L1544.7 585.3 L1578.8 543.1 L1610.9 502.3 L1611 494 L1591 592.1 L1558.9 667 L1524.3 735.1 L1491.8 799.7 L1459.1 848.7 L1425.6 901.8 L1393.7 949.5 L1358.9 993.1 L1328.4 1032.6 L1293.5 1069.3 L1261.7 1099.3 L1229 1126.5 L1194.9 1151 L1162.3 1171.5 L1130 1190 L1097 1208 L1065.4 1224 L1029 1242 L997.3 1254.7 L930 1279 L860 1300 L790 1320 L720 1343 L650 1373 L590 1403 L540 1437 L500 1475" fill="none" stroke="#0000ff" stroke-width="2.6" stroke-linejoin="round"/>
<path d="M322 1485.8L346 1485.8L334 1465.2zM355 1454.2L379 1454.2L367 1433.8zM388.8 1419.7L412.8 1419.7L400.8 1399.2zM421.5 1388.8L445.5 1388.8L433.5 1368.2zM455 1368.8L479 1368.8L467 1348.3zM486.8 1347L510.8 1347L498.8 1326.5zM520.4 1328.8L544.4 1328.8L532.4 1308.3zM553 1309L577 1309L565 1288.5zM586 1289.2L610 1289.2L598 1268.8zM619 1270.2L643 1270.2L631 1249.8zM652 1251.2L676 1251.2L664 1230.8zM685 1233.2L709 1233.2L697 1212.8zM718 1215.2L742 1215.2L730 1194.8zM751 1197.2L775 1197.2L763 1176.8zM784 1180.2L808 1180.2L796 1159.8zM817 1165.2L841 1165.2L829 1144.8zM850 1152.2L874 1152.2L862 1131.8zM880 1140.7L904 1140.7L892 1120.2zM916.5 1126.5L940.5 1126.5L928.5 1106zM947.2 1111.2L971.2 1111.2L959.2 1090.7zM922.6 1146.5L946.6 1146.5L934.6 1126zM889.1 1168.1L913.1 1168.1L901.1 1147.6zM855.7 1188.6L879.7 1188.6L867.7 1168.1zM822.2 1207.7L846.2 1207.7L834.2 1187.2zM788.8 1226.8L812.8 1226.8L800.8 1206.3zM755.3 1245.2L779.3 1245.2L767.3 1224.7zM721.9 1263.6L745.9 1263.6L733.9 1243.1zM688.4 1282.5L712.4 1282.5L700.4 1262zM655 1301.7L679 1301.7L667 1281.2zM621.6 1321.3L645.6 1321.3L633.6 1300.8zM588.1 1342.2L612.1 1342.2L600.1 1321.7zM554.7 1363.1L578.7 1363.1L566.7 1342.6zM521.2 1383.3L545.2 1383.3L533.2 1362.8zM487.8 1403.4L511.8 1403.4L499.8 1382.9zM454.3 1423.8L478.3 1423.8L466.3 1403.3zM420.9 1444.9L444.9 1444.9L432.9 1424.4zM387.4 1465.5L411.4 1465.5L399.4 1445zM354 1485.2L378 1485.2L366 1464.8zM387.1 1456.6L411.1 1456.6L399.1 1436.1zM420.2 1428L444.2 1428L432.2 1407.5zM453.3 1406.9L477.3 1406.9L465.3 1386.4zM486.4 1388.2L510.4 1388.2L498.4 1367.7zM519.6 1369.7L543.6 1369.7L531.6 1349.2zM552.7 1351.5L576.7 1351.5L564.7 1331zM585.8 1333.4L609.8 1333.4L597.8 1312.9zM618.9 1314.7L642.9 1314.7L630.9 1294.2zM652 1294.8L676 1294.8L664 1274.3zM685.1 1275L709.1 1275L697.1 1254.5zM718.2 1255.3L742.2 1255.3L730.2 1234.8zM751.3 1236.1L775.3 1236.1L763.3 1215.6zM784.4 1216.9L808.4 1216.9L796.4 1196.4zM817.6 1197.5L841.6 1197.5L829.6 1177zM850.7 1177.7L874.7 1177.7L862.7 1157.2zM883.8 1157.8L907.8 1157.8L895.8 1137.3zM916.9 1137.3L940.9 1137.3L928.9 1116.8zM982.6 1094.5L1006.6 1094.5L994.6 1074zM1012.7 1071L1036.7 1071L1024.7 1050.5zM1044.6 1045L1068.6 1045L1056.6 1024.5zM1079.4 1020.2L1103.4 1020.2L1091.4 999.8zM1112 993.2L1136 993.2L1124 972.8zM1145 964L1169 964L1157 943.5zM1178 936.6L1202 936.6L1190 916.1zM1209.9 907.5L1233.9 907.5L1221.9 887zM1198.3 949.8L1222.3 949.8L1210.3 929.2zM1171 985.2L1195 985.2L1183 964.8zM1138 1029.2L1162 1029.2L1150 1008.8zM1103 1077.2L1127 1077.2L1115 1056.8zM1066 1124.2L1090 1124.2L1078 1103.8zM1028.6 1150L1052.6 1150L1040.6 1129.5zM993 1174.8L1017 1174.8L1005 1154.3zM961 1196.2L985 1196.2L973 1175.8zM927.9 1215.3L951.9 1215.3L939.9 1194.8zM894.8 1231.9L918.8 1231.9L906.8 1211.4zM861.6 1248.4L885.6 1248.4L873.6 1227.9zM828.5 1263.7L852.5 1263.7L840.5 1243.2zM795.4 1278.9L819.4 1278.9L807.4 1258.4zM762.3 1293.8L786.3 1293.8L774.3 1273.3zM729.2 1308.7L753.2 1308.7L741.2 1288.2zM696.1 1324.4L720.1 1324.4L708.1 1303.9zM662.9 1341.3L686.9 1341.3L674.9 1320.8zM629.8 1358.3L653.8 1358.3L641.8 1337.8zM596.7 1377.2L620.7 1377.2L608.7 1356.7zM563.6 1396.3L587.6 1396.3L575.6 1375.8zM530.5 1414.9L554.5 1414.9L542.5 1394.4zM497.4 1433.1L521.4 1433.1L509.4 1412.6zM464.2 1451.2L488.2 1451.2L476.2 1430.7zM431.1 1468.2L455.1 1468.2L443.1 1447.7zM398 1485.2L422 1485.2L410 1464.8zM430 1460.5L454 1460.5L442 1440zM462.1 1435.8L486.1 1435.8L474.1 1415.3zM494.1 1415L518.1 1415L506.1 1394.5zM526.1 1395.1L550.1 1395.1L538.1 1374.6zM558.2 1375.2L582.2 1375.2L570.2 1354.7zM590.2 1358.3L614.2 1358.3L602.2 1337.8zM622.3 1341.4L646.3 1341.4L634.3 1320.9zM654.3 1324.5L678.3 1324.5L666.3 1304zM686.3 1306.8L710.3 1306.8L698.3 1286.3zM718.4 1288.5L742.4 1288.5L730.4 1268zM750.4 1270.3L774.4 1270.3L762.4 1249.8zM782.5 1252.2L806.5 1252.2L794.5 1231.7zM814.5 1234.4L838.5 1234.4L826.5 1213.9zM846.5 1216.6L870.5 1216.6L858.5 1196.1zM878.6 1199.2L902.6 1199.2L890.6 1178.7zM910.6 1182L934.6 1182L922.6 1161.5zM942.5 1164.2L966.5 1164.2L954.5 1143.8zM974 1139.2L998 1139.2L986 1118.8zM1005 1118.2L1029 1118.2L1017 1097.8zM1037 1095.8L1061 1095.8L1049 1075.2zM1071 1071.2L1095 1071.2L1083 1050.8zM1105 1044.2L1129 1044.2L1117 1023.8zM1138 1015.2L1162 1015.2L1150 994.8zM1171 979.2L1195 979.2L1183 958.8zM1203 947.2L1227 947.2L1215 926.8zM1236.5 914.2L1260.5 914.2L1248.5 893.8zM1269.2 880.2L1293.2 880.2L1281.2 859.8zM1307.3 844.9L1331.3 844.9L1319.3 824.4zM1334.7 808.8L1358.7 808.8L1346.7 788.2zM1368 775.4L1392 775.4L1380 754.9zM1402 738.5L1426 738.5L1414 718zM1436 704.5L1460 704.5L1448 684zM1468.7 667.8L1492.7 667.8L1480.7 647.2zM1500.6 630.5L1524.6 630.5L1512.6 610zM1532.7 595.5L1556.7 595.5L1544.7 575zM1566.8 553.4L1590.8 553.4L1578.8 532.9zM1598.9 512.5L1622.9 512.5L1610.9 492.1zM1579 602.4L1603 602.4L1591 581.9zM1546.9 677.2L1570.9 677.2L1558.9 656.8zM1512.3 745.4L1536.3 745.4L1524.3 724.9zM1479.8 810L1503.8 810L1491.8 789.5zM1447.1 859L1471.1 859L1459.1 838.5zM1413.6 912L1437.6 912L1425.6 891.5zM1381.7 959.8L1405.7 959.8L1393.7 939.2zM1346.9 1003.4L1370.9 1003.4L1358.9 982.9zM1316.4 1042.8L1340.4 1042.8L1328.4 1022.3zM1281.5 1079.5L1305.5 1079.5L1293.5 1059zM1249.7 1109.5L1273.7 1109.5L1261.7 1089zM1217 1136.8L1241 1136.8L1229 1116.2zM1182.9 1161.2L1206.9 1161.2L1194.9 1140.8zM1150.3 1181.8L1174.3 1181.8L1162.3 1161.2zM1118 1200.2L1142 1200.2L1130 1179.8zM1085 1218.2L1109 1218.2L1097 1197.8zM1053.4 1234.2L1077.4 1234.2L1065.4 1213.8zM1017 1252.2L1041 1252.2L1029 1231.8zM985.3 1265L1009.3 1265L997.3 1244.5zM952.1 1276.9L976.1 1276.9L964.1 1256.4zM919 1288.9L943 1288.9L931 1268.4zM885.8 1298.9L909.8 1298.9L897.8 1278.4zM852.7 1308.8L876.7 1308.8L864.7 1288.3zM819.5 1318.4L843.5 1318.4L831.5 1297.9zM786.4 1327.9L810.4 1327.9L798.4 1307.4zM753.2 1338.4L777.2 1338.4L765.2 1317.9zM720.1 1349.3L744.1 1349.3L732.1 1328.8zM686.9 1362.3L710.9 1362.3L698.9 1341.8zM653.8 1376.5L677.8 1376.5L665.8 1356zM620.6 1391.9L644.6 1391.9L632.6 1371.4zM587.5 1408.5L611.5 1408.5L599.5 1388zM554.3 1429.4L578.3 1429.4L566.3 1408.9zM521.2 1453.8L545.2 1453.8L533.2 1433.3zM488 1485.2L512 1485.2L500 1464.8z" fill="#0000ff"/>
<path d="M334 1478.5 L367.6 1444.5 L400.8 1410 L433.5 1375.5 L467 1345.5 L498.8 1321 L531.5 1299 L564.2 1278.3 L597.8 1258.4 L630.5 1237.5 L663 1215.7 L696.8 1193.9 L729.5 1177.6 L762.4 1157 L795.3 1136.7 L828.2 1114 L862.3 1093.6 L893 1070.9 L927 1048 L960 1025 L977 1013 L970 1033 L940 1063 L900 1097 L830 1149 L760 1196 L690 1242 L620 1289 L550 1339 L480 1394 L415 1449 L380 1478.5 L445 1405 L515 1349 L595 1293 L695 1226 L795 1161 L885 1101 L949.7 1046 L978 1019.8 L1012 991.4 L1045 962 L1077.9 934.7 L1110.8 906.3 L1143.7 875.7 L1181.6 846.7 L1213.3 813.8 L1248.5 778.6 L1279.6 744.6 L1313.2 708.3 L1347.3 670.8 L1379 631 L1404 600.5 L1397.2 619.7 L1370 717.3 L1336 790 L1303 858 L1269 917 L1236 970 L1204 1013 L1172 1052.7 L1138 1096 L1106.3 1123 L1073.4 1150.3 L1040.4 1170.7 L1006.4 1191 L971.2 1209.3 L940 1225 L870 1255 L800 1283 L700 1328 L600 1378 L500 1439 L442 1478.5 L500 1431 L560 1388 L660 1321 L760 1258 L852 1200 L886 1182 L919 1161.7 L952 1143.5 L986 1120.8 L1018.9 1098 L1049.5 1073 L1083.6 1048 L1116.5 1021 L1150.5 991.4 L1181 959.7 L1213 921.6 L1248.5 885 L1279 851 L1315.5 812.7 L1347.3 771.8 L1380 728.9 L1413.2 688 L1444.8 646.6 L1477.4 603 L1511.5 560 L1543.4 517.8 L1578.2 478.3 L1610.1 434.7 L1641.4 391.2 L1676.5 350.5 L1708.5 303.6 L1743.4 260.9 L1773.6 214.4 L1806.5 166.7 L1809 161 L1806 202 L1800 243 L1794 265 L1786.1 285.9 L1775 323 L1768 356 L1753.2 393.7 L1719.8 482.4 L1688.5 560 L1654.5 629.5 L1622.3 692.1 L1586.9 749.3 L1555.6 806.5 L1524.5 856.1 L1489.6 905.1 L1458.3 950.1 L1423.7 990.9 L1391.6 1027.7 L1358.9 1060.4 L1325.1 1091.7 L1292.4 1120.3 L1258.4 1144.8 L1226.3 1166.6 L1193.6 1187 L1160 1206 L1127.8 1221 L1095 1237 L1063 1248 L1029 1260.7 L996 1273 L964.4 1285.7 L932.6 1296 L899.7 1307 L866.8 1315 L834 1325.4 L801 1332 L768 1342.4 L734 1355 L699.5 1364.6 L666.8 1379 L636 1393.6 L600.5 1411.8 L568.8 1433.6 L536 1453.5 L503.4 1475 L495 1478.5" fill="none" stroke="#008080" stroke-width="2.6" stroke-linejoin="round"/>
<path d="M322 1468.2L346 1468.2L334 1488.8zM355.6 1434.2L379.6 1434.2L367.6 1454.8zM388.8 1399.8L412.8 1399.8L400.8 1420.2zM421.5 1365.2L445.5 1365.2L433.5 1385.8zM455 1335.2L479 1335.2L467 1355.8zM486.8 1310.8L510.8 1310.8L498.8 1331.2zM519.5 1288.8L543.5 1288.8L531.5 1309.2zM552.2 1268L576.2 1268L564.2 1288.5zM585.8 1248.2L609.8 1248.2L597.8 1268.7zM618.5 1227.2L642.5 1227.2L630.5 1247.8zM651 1205.5L675 1205.5L663 1226zM684.8 1183.7L708.8 1183.7L696.8 1204.2zM717.5 1167.3L741.5 1167.3L729.5 1187.8zM750.4 1146.8L774.4 1146.8L762.4 1167.2zM783.3 1126.5L807.3 1126.5L795.3 1147zM816.2 1103.8L840.2 1103.8L828.2 1124.2zM850.3 1083.3L874.3 1083.3L862.3 1103.8zM881 1060.7L905 1060.7L893 1081.2zM915 1037.8L939 1037.8L927 1058.2zM948 1014.8L972 1014.8L960 1035.2zM925.2 1055.1L949.2 1055.1L937.2 1075.6zM892.4 1083L916.4 1083L904.4 1103.5zM859.7 1107.8L883.7 1107.8L871.7 1128.3zM826.9 1132.1L850.9 1132.1L838.9 1152.6zM794.1 1154.8L818.1 1154.8L806.1 1175.3zM761.3 1176.8L785.3 1176.8L773.3 1197.3zM728.6 1198.5L752.6 1198.5L740.6 1219zM695.8 1220.1L719.8 1220.1L707.8 1240.6zM663 1241.8L687 1241.8L675 1262.3zM630.2 1263.8L654.2 1263.8L642.2 1284.3zM597.4 1286.3L621.4 1286.3L609.4 1306.8zM564.7 1309.7L588.7 1309.7L576.7 1330.2zM531.9 1333.6L555.9 1333.6L543.9 1354.1zM499.1 1359.3L523.1 1359.3L511.1 1379.8zM466.3 1385.2L490.3 1385.2L478.3 1405.7zM433.6 1412.9L457.6 1412.9L445.6 1433.4zM400.8 1440.8L424.8 1440.8L412.8 1461.3zM368 1468.2L392 1468.2L380 1488.8zM401.5 1431.6L425.5 1431.6L413.5 1452.1zM435 1393.1L459 1393.1L447 1413.6zM468.5 1366.3L492.5 1366.3L480.5 1386.8zM502 1339.5L526 1339.5L514 1360zM535.6 1316L559.6 1316L547.6 1336.5zM569.1 1292.5L593.1 1292.5L581.1 1313zM602.6 1269.6L626.6 1269.6L614.6 1290.1zM636.1 1247.2L660.1 1247.2L648.1 1267.7zM669.6 1224.7L693.6 1224.7L681.6 1245.2zM703.1 1202.7L727.1 1202.7L715.1 1223.2zM736.6 1180.9L760.6 1180.9L748.6 1201.4zM770.1 1159.1L794.1 1159.1L782.1 1179.6zM803.7 1137L827.7 1137L815.7 1157.5zM837.2 1114.6L861.2 1114.6L849.2 1135.1zM870.7 1092.3L894.7 1092.3L882.7 1112.8zM904.2 1064.2L928.2 1064.2L916.2 1084.7zM937.7 1035.8L961.7 1035.8L949.7 1056.2zM966 1009.5L990 1009.5L978 1030zM1000 981.1L1024 981.1L1012 1001.6zM1033 951.8L1057 951.8L1045 972.2zM1065.9 924.5L1089.9 924.5L1077.9 945zM1098.8 896L1122.8 896L1110.8 916.5zM1131.7 865.5L1155.7 865.5L1143.7 886zM1169.6 836.5L1193.6 836.5L1181.6 857zM1201.3 803.5L1225.3 803.5L1213.3 824zM1236.5 768.4L1260.5 768.4L1248.5 788.9zM1267.6 734.4L1291.6 734.4L1279.6 754.9zM1301.2 698L1325.2 698L1313.2 718.5zM1335.3 660.5L1359.3 660.5L1347.3 681zM1367 620.8L1391 620.8L1379 641.2zM1385.2 609.5L1409.2 609.5L1397.2 630zM1358 707L1382 707L1370 727.5zM1324 779.8L1348 779.8L1336 800.2zM1291 847.8L1315 847.8L1303 868.2zM1257 906.8L1281 906.8L1269 927.2zM1224 959.8L1248 959.8L1236 980.2zM1192 1002.8L1216 1002.8L1204 1023.2zM1160 1042.5L1184 1042.5L1172 1063zM1126 1085.8L1150 1085.8L1138 1106.2zM1094.3 1112.8L1118.3 1112.8L1106.3 1133.2zM1061.4 1140L1085.4 1140L1073.4 1160.5zM1028.4 1160.5L1052.4 1160.5L1040.4 1181zM994.4 1180.8L1018.4 1180.8L1006.4 1201.2zM959.2 1199L983.2 1199L971.2 1219.5zM926.1 1215.6L950.1 1215.6L938.1 1236.1zM893.1 1229.7L917.1 1229.7L905.1 1250.2zM860 1243.9L884 1243.9L872 1264.4zM826.9 1257.2L850.9 1257.2L838.9 1277.7zM793.8 1270.4L817.8 1270.4L805.8 1290.9zM760.8 1285L784.8 1285L772.8 1305.5zM727.7 1299.9L751.7 1299.9L739.7 1320.4zM694.6 1314.8L718.6 1314.8L706.6 1335.3zM661.5 1331L685.5 1331L673.5 1351.5zM628.5 1347.5L652.5 1347.5L640.5 1368zM595.4 1364.1L619.4 1364.1L607.4 1384.6zM562.3 1383.4L586.3 1383.4L574.3 1403.9zM529.2 1403.6L553.2 1403.6L541.2 1424.1zM496.1 1423.8L520.1 1423.8L508.1 1444.3zM463.1 1446.8L487.1 1446.8L475.1 1467.3zM430 1468.2L454 1468.2L442 1488.8zM464.2 1441.3L488.2 1441.3L476.2 1461.8zM498.3 1413.3L522.3 1413.3L510.3 1433.8zM532.5 1388.9L556.5 1388.9L544.5 1409.4zM566.7 1365.2L590.7 1365.2L578.7 1385.7zM600.8 1342.4L624.8 1342.4L612.8 1362.9zM635 1319.5L659 1319.5L647 1340zM669.2 1297.4L693.2 1297.4L681.2 1317.9zM703.3 1275.9L727.3 1275.9L715.3 1296.4zM737.5 1254.4L761.5 1254.4L749.5 1274.9zM771.7 1232.8L795.7 1232.8L783.7 1253.3zM805.8 1211.3L829.8 1211.3L817.8 1231.8zM840 1189.8L864 1189.8L852 1210.2zM874 1171.8L898 1171.8L886 1192.2zM907 1151.5L931 1151.5L919 1172zM940 1133.2L964 1133.2L952 1153.8zM974 1110.5L998 1110.5L986 1131zM1006.9 1087.8L1030.9 1087.8L1018.9 1108.2zM1037.5 1062.8L1061.5 1062.8L1049.5 1083.2zM1071.6 1037.8L1095.6 1037.8L1083.6 1058.2zM1104.5 1010.8L1128.5 1010.8L1116.5 1031.2zM1138.5 981.1L1162.5 981.1L1150.5 1001.6zM1169 949.5L1193 949.5L1181 970zM1201 911.4L1225 911.4L1213 931.9zM1236.5 874.8L1260.5 874.8L1248.5 895.2zM1267 840.8L1291 840.8L1279 861.2zM1303.5 802.5L1327.5 802.5L1315.5 823zM1335.3 761.5L1359.3 761.5L1347.3 782zM1368 718.6L1392 718.6L1380 739.1zM1401.2 677.8L1425.2 677.8L1413.2 698.2zM1432.8 636.4L1456.8 636.4L1444.8 656.9zM1465.4 592.8L1489.4 592.8L1477.4 613.2zM1499.5 549.8L1523.5 549.8L1511.5 570.2zM1531.4 507.5L1555.4 507.5L1543.4 528zM1566.2 468.1L1590.2 468.1L1578.2 488.6zM1598.1 424.4L1622.1 424.4L1610.1 444.9zM1629.4 380.9L1653.4 380.9L1641.4 401.4zM1664.5 340.2L1688.5 340.2L1676.5 360.8zM1696.5 293.4L1720.5 293.4L1708.5 313.9zM1731.4 250.6L1755.4 250.6L1743.4 271.1zM1761.6 204.2L1785.6 204.2L1773.6 224.7zM1794.5 156.4L1818.5 156.4L1806.5 176.9zM1774.1 275.6L1798.1 275.6L1786.1 296.1zM1741.2 383.4L1765.2 383.4L1753.2 403.9zM1707.8 472.1L1731.8 472.1L1719.8 492.6zM1676.5 549.8L1700.5 549.8L1688.5 570.2zM1642.5 619.2L1666.5 619.2L1654.5 639.8zM1610.3 681.9L1634.3 681.9L1622.3 702.4zM1574.9 739L1598.9 739L1586.9 759.5zM1543.6 796.2L1567.6 796.2L1555.6 816.8zM1512.5 845.9L1536.5 845.9L1524.5 866.4zM1477.6 894.9L1501.6 894.9L1489.6 915.4zM1446.3 939.9L1470.3 939.9L1458.3 960.4zM1411.7 980.6L1435.7 980.6L1423.7 1001.1zM1379.6 1017.5L1403.6 1017.5L1391.6 1038zM1346.9 1050.2L1370.9 1050.2L1358.9 1070.7zM1313.1 1081.5L1337.1 1081.5L1325.1 1102zM1280.4 1110L1304.4 1110L1292.4 1130.5zM1246.4 1134.5L1270.4 1134.5L1258.4 1155zM1214.3 1156.3L1238.3 1156.3L1226.3 1176.8zM1181.6 1176.8L1205.6 1176.8L1193.6 1197.2zM1148 1195.8L1172 1195.8L1160 1216.2zM1115.8 1210.8L1139.8 1210.8L1127.8 1231.2zM1083 1226.8L1107 1226.8L1095 1247.2zM1051 1237.8L1075 1237.8L1063 1258.2zM1017 1250.5L1041 1250.5L1029 1271zM984 1262.8L1008 1262.8L996 1283.2zM952.4 1275.5L976.4 1275.5L964.4 1296zM920.6 1285.8L944.6 1285.8L932.6 1306.2zM887.7 1296.8L911.7 1296.8L899.7 1317.2zM854.8 1304.8L878.8 1304.8L866.8 1325.2zM822 1315.2L846 1315.2L834 1335.7zM789 1321.8L813 1321.8L801 1342.2zM756 1332.2L780 1332.2L768 1352.7zM722 1344.8L746 1344.8L734 1365.2zM687.5 1354.3L711.5 1354.3L699.5 1374.8zM654.8 1368.8L678.8 1368.8L666.8 1389.2zM624 1383.3L648 1383.3L636 1403.8zM588.5 1401.5L612.5 1401.5L600.5 1422zM556.8 1423.3L580.8 1423.3L568.8 1443.8zM524 1443.2L548 1443.2L536 1463.8zM491.4 1464.8L515.4 1464.8L503.4 1485.2z" fill="#008080"/>
<path d="M334 1478.5 L367.6 1428.8 L400.8 1388.8 L433.5 1357.9 L467 1331.6 L499.8 1307.1 L531.5 1284.4 L564.2 1261.7 L597.8 1239.9 L630.5 1219.9 L662.3 1200 L694 1181.8 L728.4 1158.7 L763.5 1138 L795 1118 L827 1096 L861.6 1073.6 L893 1053 L928 1029 L960.6 1007.7 L934 1063 L898.6 1099.7 L863.4 1129 L829.4 1151.9 L795 1173 L760 1194 L725 1214 L690 1235 L650 1259 L600 1291 L550 1324 L500 1360 L450 1400 L400 1446 L372 1478 L395 1444 L421.7 1414 L454 1385 L483 1369 L516 1343 L554 1314 L588.7 1292.6 L619.6 1270.8 L652 1252.6 L686.8 1232.7 L760 1187 L830 1141 L894 1096 L927 1072 L960 1045 L991.6 1016.8 L1024.6 989.6 L1057.5 962 L1089 935 L1124.4 906.7 L1156 877 L1189.5 848.2 L1221.3 818.7 L1254.2 787 L1288.2 755.2 L1320 723.4 L1354.1 691.6 L1387 654.2 L1419.9 619 L1452.8 581.6 L1485.3 543.4 L1491.6 555 L1471 621 L1440.3 707.5 L1406.3 777.9 L1373.3 844.9 L1339.8 902.9 L1306 952.5 L1273.9 998.8 L1241.2 1038.3 L1207.2 1075 L1175.9 1106.4 L1142.6 1134 L1108.5 1159 L1076.8 1179.4 L1043.8 1198.7 L1012 1215.8 L978 1231.6 L946.3 1247.5 L913.3 1258.9 L879.3 1270 L847.5 1281.6 L813.5 1291.8 L781.7 1302 L700 1334 L620 1370 L545 1412 L480 1455 L452 1478 L500 1440 L560 1398 L650 1335 L750 1272 L850.9 1215.4 L883.8 1199.5 L917.9 1182.5 L949.7 1167.7 L984.8 1149.6 L1016.6 1128 L1047 1106.5 L1082.4 1083.8 L1114 1056.5 L1148 1033.8 L1181 1006.6 L1212.6 974.3 L1246.7 944.3 L1279.4 913 L1313.4 874.9 L1345 842.6 L1377.2 806.2 L1411.3 765.3 L1444 725.9 L1476.6 687.2 L1510.7 648.2 L1542.8 605.5 L1576 561.1 L1608.7 521.1 L1640.8 479.4 L1674.1 438.6 L1706.8 396.3 L1741.2 352.5 L1771.8 309.4 L1805.4 267 L1839.4 223.4 L1871.2 178.9 L1904.8 133.7 L1936.6 87 L1951 67 L1954 66 L1954 80 L1950 110 L1942 148.9 L1907.5 281 L1875.1 385.4 L1841.6 471.2 L1809.7 545.6 L1777.6 610.1 L1743.5 671.9 L1711.4 725.9 L1679.5 779.8 L1644.3 828.6 L1613.5 874.1 L1579.5 915.7 L1546.2 956 L1514.1 993.9 L1480.9 1028.2 L1448.7 1059.3 L1414.2 1090 L1382.3 1115.4 L1350.2 1139 L1315.6 1161.4 L1283.4 1179 L1249.4 1197.6 L1217.5 1211.2 L1184.9 1226.2 L1150.5 1239.6 L1118.7 1252 L1084.7 1262.3 L1051.8 1273.6 L1020 1283.8 L987 1293 L954.2 1302 L921.3 1310 L889.5 1320 L856.6 1327 L823.7 1335 L790.8 1345 L756.7 1356.5 L725 1366.7 L690.4 1379.7 L657.7 1394.3 L625 1409.7 L593.3 1426.9 L559.7 1448.7 L527 1470.5 L516 1478" fill="none" stroke="#ff00ff" stroke-width="2.6" stroke-linejoin="round"/>
<path d="M320.8 1478.5L334 1465.8L347.2 1478.5L334 1491.2zM354.4 1428.8L367.6 1416L380.9 1428.8L367.6 1441.5zM387.6 1388.8L400.8 1376L414.1 1388.8L400.8 1401.5zM420.2 1357.9L433.5 1345.2L446.8 1357.9L433.5 1370.7zM453.8 1331.6L467 1318.8L480.2 1331.6L467 1344.3zM486.6 1307.1L499.8 1294.3L513 1307.1L499.8 1319.8zM518.2 1284.4L531.5 1271.7L544.8 1284.4L531.5 1297.2zM551 1261.7L564.2 1249L577.5 1261.7L564.2 1274.5zM584.5 1239.9L597.8 1227.2L611 1239.9L597.8 1252.7zM617.2 1219.9L630.5 1207.2L643.8 1219.9L630.5 1232.7zM649 1200L662.3 1187.2L675.5 1200L662.3 1212.8zM680.8 1181.8L694 1169L707.2 1181.8L694 1194.5zM715.1 1158.7L728.4 1146L741.6 1158.7L728.4 1171.5zM750.2 1138L763.5 1125.2L776.8 1138L763.5 1150.8zM781.8 1118L795 1105.2L808.2 1118L795 1130.8zM813.8 1096L827 1083.2L840.2 1096L827 1108.8zM848.4 1073.6L861.6 1060.8L874.9 1073.6L861.6 1086.3zM879.8 1053L893 1040.2L906.2 1053L893 1065.8zM914.8 1029L928 1016.2L941.2 1029L928 1041.8zM947.4 1007.7L960.6 995L973.9 1007.7L960.6 1020.5zM920.8 1063L934 1050.2L947.2 1063L934 1075.8zM885.4 1099.7L898.6 1087L911.9 1099.7L898.6 1112.5zM850.1 1129L863.4 1116.2L876.6 1129L863.4 1141.8zM816.1 1151.9L829.4 1139.2L842.6 1151.9L829.4 1164.7zM783.5 1171.9L796.7 1159.2L810 1171.9L796.7 1184.7zM750.8 1191.6L764.1 1178.8L777.3 1191.6L764.1 1204.3zM718.1 1210.4L731.4 1197.6L744.6 1210.4L731.4 1223.1zM685.5 1229.8L698.7 1217L712 1229.8L698.7 1242.5zM652.8 1249.4L666 1236.6L679.3 1249.4L666 1262.1zM620.1 1269.6L633.4 1256.9L646.6 1269.6L633.4 1282.4zM587.5 1290.6L600.7 1277.8L614 1290.6L600.7 1303.3zM554.8 1312.1L568 1299.4L581.3 1312.1L568 1324.9zM522.1 1334.5L535.4 1321.8L548.6 1334.5L535.4 1347.3zM489.4 1358.1L502.7 1345.3L515.9 1358.1L502.7 1370.8zM456.8 1384L470 1371.2L483.3 1384L470 1396.7zM424.1 1411.6L437.3 1398.9L450.6 1411.6L437.3 1424.4zM391.4 1441.7L404.7 1429L417.9 1441.7L404.7 1454.5zM358.8 1478L372 1465.2L385.2 1478L372 1490.8zM391.4 1433.2L404.6 1420.4L417.9 1433.2L404.6 1445.9zM424 1400L437.3 1387.2L450.5 1400L437.3 1412.7zM456.7 1376.2L469.9 1363.5L483.2 1376.2L469.9 1389zM489.3 1353.6L502.6 1340.8L515.8 1353.6L502.6 1366.3zM522 1328.3L535.2 1315.6L548.5 1328.3L535.2 1341.1zM554.6 1305.4L567.9 1292.7L581.1 1305.4L567.9 1318.2zM587.3 1284.3L600.5 1271.5L613.8 1284.3L600.5 1297zM619.9 1263.2L633.2 1250.4L646.4 1263.2L633.2 1275.9zM652.6 1244.7L665.8 1231.9L679.1 1244.7L665.8 1257.4zM685.2 1225.4L698.5 1212.7L711.7 1225.4L698.5 1238.2zM717.9 1205L731.1 1192.3L744.4 1205L731.1 1217.8zM750.5 1184.5L763.8 1171.8L777 1184.5L763.8 1197.3zM783.2 1163.1L796.4 1150.3L809.7 1163.1L796.4 1175.8zM815.8 1141.6L829.1 1128.9L842.3 1141.6L829.1 1154.4zM848.5 1118.7L861.7 1106L875 1118.7L861.7 1131.5zM881.1 1095.7L894.4 1083L907.6 1095.7L894.4 1108.5zM913.8 1072L927 1059.2L940.2 1072L927 1084.8zM946.8 1045L960 1032.2L973.2 1045L960 1057.8zM978.4 1016.8L991.6 1004L1004.9 1016.8L991.6 1029.5zM1011.3 989.6L1024.6 976.9L1037.8 989.6L1024.6 1002.4zM1044.2 962L1057.5 949.2L1070.8 962L1057.5 974.8zM1075.8 935L1089 922.2L1102.2 935L1089 947.8zM1111.2 906.7L1124.4 894L1137.7 906.7L1124.4 919.5zM1142.8 877L1156 864.2L1169.2 877L1156 889.8zM1176.2 848.2L1189.5 835.5L1202.8 848.2L1189.5 861zM1208 818.7L1221.3 806L1234.5 818.7L1221.3 831.5zM1241 787L1254.2 774.2L1267.5 787L1254.2 799.8zM1275 755.2L1288.2 742.5L1301.5 755.2L1288.2 768zM1306.8 723.4L1320 710.6L1333.2 723.4L1320 736.1zM1340.8 691.6L1354.1 678.9L1367.3 691.6L1354.1 704.4zM1373.8 654.2L1387 641.5L1400.2 654.2L1387 667zM1406.7 619L1419.9 606.2L1433.2 619L1419.9 631.8zM1439.5 581.6L1452.8 568.9L1466 581.6L1452.8 594.4zM1472 543.4L1485.3 530.6L1498.5 543.4L1485.3 556.1zM1457.8 621L1471 608.2L1484.2 621L1471 633.8zM1427 707.5L1440.3 694.8L1453.5 707.5L1440.3 720.2zM1393 777.9L1406.3 765.1L1419.5 777.9L1406.3 790.6zM1360 844.9L1373.3 832.1L1386.5 844.9L1373.3 857.6zM1326.5 902.9L1339.8 890.1L1353 902.9L1339.8 915.6zM1292.8 952.5L1306 939.8L1319.2 952.5L1306 965.2zM1260.7 998.8L1273.9 986L1287.2 998.8L1273.9 1011.5zM1228 1038.3L1241.2 1025.5L1254.5 1038.3L1241.2 1051zM1194 1075L1207.2 1062.2L1220.5 1075L1207.2 1087.8zM1162.7 1106.4L1175.9 1093.7L1189.2 1106.4L1175.9 1119.2zM1129.3 1134L1142.6 1121.2L1155.8 1134L1142.6 1146.8zM1095.2 1159L1108.5 1146.2L1121.8 1159L1108.5 1171.8zM1063.5 1179.4L1076.8 1166.7L1090 1179.4L1076.8 1192.2zM1030.5 1198.7L1043.8 1186L1057 1198.7L1043.8 1211.5zM998.8 1215.8L1012 1203L1025.2 1215.8L1012 1228.5zM964.8 1231.6L978 1218.8L991.2 1231.6L978 1244.3zM933 1247.5L946.3 1234.8L959.5 1247.5L946.3 1260.2zM900 1258.9L913.3 1246.2L926.5 1258.9L913.3 1271.7zM866 1270L879.3 1257.2L892.5 1270L879.3 1282.8zM834.2 1281.6L847.5 1268.8L860.8 1281.6L847.5 1294.3zM800.2 1291.8L813.5 1279L826.8 1291.8L813.5 1304.5zM768.5 1302L781.7 1289.2L795 1302L781.7 1314.8zM735.5 1314.9L748.7 1302.2L762 1314.9L748.7 1327.7zM702.5 1327.8L715.8 1315.1L729 1327.8L715.8 1340.6zM669.5 1341.7L682.8 1329L696 1341.7L682.8 1354.5zM636.6 1356.6L649.8 1343.8L663.1 1356.6L649.8 1369.3zM603.6 1371.8L616.9 1359L630.1 1371.8L616.9 1384.5zM570.6 1390.2L583.9 1377.5L597.1 1390.2L583.9 1403zM537.7 1408.7L550.9 1395.9L564.2 1408.7L550.9 1421.4zM504.7 1429.9L517.9 1417.2L531.2 1429.9L517.9 1442.7zM471.7 1451.7L485 1439L498.2 1451.7L485 1464.5zM438.8 1478L452 1465.2L465.2 1478L452 1490.8zM472 1451.7L485.2 1438.9L498.5 1451.7L485.2 1464.4zM505.2 1427.1L518.5 1414.3L531.7 1427.1L518.5 1439.8zM538.5 1403.8L551.7 1391L565 1403.8L551.7 1416.5zM571.7 1380.5L585 1367.8L598.2 1380.5L585 1393.3zM605 1357.3L618.2 1344.5L631.5 1357.3L618.2 1370zM638.2 1334.1L651.4 1321.3L664.7 1334.1L651.4 1346.8zM671.4 1313.1L684.7 1300.4L697.9 1313.1L684.7 1325.9zM704.7 1292.2L717.9 1279.5L731.2 1292.2L717.9 1305zM737.9 1271.3L751.2 1258.6L764.4 1271.3L751.2 1284.1zM771.2 1252.7L784.4 1239.9L797.7 1252.7L784.4 1265.4zM804.4 1234L817.7 1221.3L830.9 1234L817.7 1246.8zM837.6 1215.4L850.9 1202.7L864.1 1215.4L850.9 1228.2zM870.5 1199.5L883.8 1186.8L897 1199.5L883.8 1212.2zM904.6 1182.5L917.9 1169.8L931.1 1182.5L917.9 1195.2zM936.5 1167.7L949.7 1155L963 1167.7L949.7 1180.5zM971.5 1149.6L984.8 1136.8L998 1149.6L984.8 1162.3zM1003.4 1128L1016.6 1115.2L1029.8 1128L1016.6 1140.8zM1033.8 1106.5L1047 1093.8L1060.2 1106.5L1047 1119.2zM1069.2 1083.8L1082.4 1071L1095.7 1083.8L1082.4 1096.5zM1100.8 1056.5L1114 1043.8L1127.2 1056.5L1114 1069.2zM1134.8 1033.8L1148 1021L1161.2 1033.8L1148 1046.5zM1167.8 1006.6L1181 993.9L1194.2 1006.6L1181 1019.4zM1199.3 974.3L1212.6 961.5L1225.8 974.3L1212.6 987zM1233.5 944.3L1246.7 931.5L1260 944.3L1246.7 957zM1266.2 913L1279.4 900.2L1292.7 913L1279.4 925.8zM1300.2 874.9L1313.4 862.1L1326.7 874.9L1313.4 887.6zM1331.8 842.6L1345 829.9L1358.2 842.6L1345 855.4zM1364 806.2L1377.2 793.5L1390.5 806.2L1377.2 819zM1398 765.3L1411.3 752.5L1424.5 765.3L1411.3 778zM1430.8 725.9L1444 713.1L1457.2 725.9L1444 738.6zM1463.3 687.2L1476.6 674.5L1489.8 687.2L1476.6 700zM1497.5 648.2L1510.7 635.5L1524 648.2L1510.7 661zM1529.5 605.5L1542.8 592.8L1556 605.5L1542.8 618.2zM1562.8 561.1L1576 548.4L1589.2 561.1L1576 573.9zM1595.5 521.1L1608.7 508.4L1622 521.1L1608.7 533.9zM1627.5 479.4L1640.8 466.6L1654 479.4L1640.8 492.1zM1660.8 438.6L1674.1 425.9L1687.3 438.6L1674.1 451.4zM1693.5 396.3L1706.8 383.6L1720 396.3L1706.8 409.1zM1728 352.5L1741.2 339.8L1754.5 352.5L1741.2 365.2zM1758.5 309.4L1771.8 296.6L1785 309.4L1771.8 322.1zM1792.2 267L1805.4 254.2L1818.7 267L1805.4 279.8zM1826.2 223.4L1839.4 210.7L1852.7 223.4L1839.4 236.2zM1858 178.9L1871.2 166.2L1884.5 178.9L1871.2 191.7zM1891.5 133.7L1904.8 120.9L1918 133.7L1904.8 146.4zM1923.3 87L1936.6 74.2L1949.8 87L1936.6 99.8zM1928.8 148.9L1942 136.2L1955.2 148.9L1942 161.7zM1894.2 281L1907.5 268.2L1920.8 281L1907.5 293.8zM1861.8 385.4L1875.1 372.6L1888.3 385.4L1875.1 398.1zM1828.3 471.2L1841.6 458.4L1854.8 471.2L1841.6 483.9zM1796.5 545.6L1809.7 532.9L1823 545.6L1809.7 558.4zM1764.3 610.1L1777.6 597.4L1790.8 610.1L1777.6 622.9zM1730.2 671.9L1743.5 659.1L1756.8 671.9L1743.5 684.6zM1698.2 725.9L1711.4 713.1L1724.7 725.9L1711.4 738.6zM1666.2 779.8L1679.5 767L1692.8 779.8L1679.5 792.5zM1631 828.6L1644.3 815.9L1657.5 828.6L1644.3 841.4zM1600.2 874.1L1613.5 861.4L1626.8 874.1L1613.5 886.9zM1566.2 915.7L1579.5 903L1592.8 915.7L1579.5 928.5zM1533 956L1546.2 943.2L1559.5 956L1546.2 968.8zM1500.8 993.9L1514.1 981.1L1527.3 993.9L1514.1 1006.6zM1467.7 1028.2L1480.9 1015.5L1494.2 1028.2L1480.9 1041zM1435.5 1059.3L1448.7 1046.5L1462 1059.3L1448.7 1072zM1401 1090L1414.2 1077.2L1427.5 1090L1414.2 1102.8zM1369 1115.4L1382.3 1102.7L1395.5 1115.4L1382.3 1128.2zM1337 1139L1350.2 1126.2L1363.5 1139L1350.2 1151.8zM1302.3 1161.4L1315.6 1148.7L1328.8 1161.4L1315.6 1174.2zM1270.2 1179L1283.4 1166.2L1296.7 1179L1283.4 1191.8zM1236.2 1197.6L1249.4 1184.8L1262.7 1197.6L1249.4 1210.3zM1204.2 1211.2L1217.5 1198.5L1230.8 1211.2L1217.5 1224zM1171.7 1226.2L1184.9 1213.5L1198.2 1226.2L1184.9 1239zM1137.2 1239.6L1150.5 1226.8L1163.8 1239.6L1150.5 1252.3zM1105.5 1252L1118.7 1239.2L1132 1252L1118.7 1264.8zM1071.5 1262.3L1084.7 1249.5L1098 1262.3L1084.7 1275zM1038.5 1273.6L1051.8 1260.8L1065 1273.6L1051.8 1286.3zM1006.8 1283.8L1020 1271L1033.2 1283.8L1020 1296.5zM973.8 1293L987 1280.2L1000.2 1293L987 1305.8zM941 1302L954.2 1289.2L967.5 1302L954.2 1314.8zM908 1310L921.3 1297.2L934.5 1310L921.3 1322.8zM876.2 1320L889.5 1307.2L902.8 1320L889.5 1332.8zM843.4 1327L856.6 1314.2L869.9 1327L856.6 1339.8zM810.5 1335L823.7 1322.2L837 1335L823.7 1347.8zM777.5 1345L790.8 1332.2L804 1345L790.8 1357.8zM743.5 1356.5L756.7 1343.8L770 1356.5L756.7 1369.2zM711.8 1366.7L725 1354L738.2 1366.7L725 1379.5zM677.1 1379.7L690.4 1367L703.6 1379.7L690.4 1392.5zM644.5 1394.3L657.7 1381.5L671 1394.3L657.7 1407zM611.8 1409.7L625 1397L638.2 1409.7L625 1422.5zM580 1426.9L593.3 1414.2L606.5 1426.9L593.3 1439.7zM546.5 1448.7L559.7 1436L573 1448.7L559.7 1461.5zM513.8 1470.5L527 1457.8L540.2 1470.5L527 1483.2z" fill="#ff00ff"/>
</g>
<rect x="357.5" y="73.5" width="559.5" height="472" fill="#fff" stroke="#000" stroke-width="2.4"/>
<g font-family="'Liberation Sans', Arial, sans-serif" font-size="75" letter-spacing="1.45" fill="#000" stroke="#000" stroke-width="0.6">
<path d="M361 122.5H536" stroke="#000000" stroke-width="2.4" fill="none"/>
<path d="M440.2 112.8h16.5v16.5h-16.5z" fill="#000000"/>
<text x="559" y="147.6">100/0(0)</text>
<path d="M361 217.5H536" stroke="#ff0000" stroke-width="2.4" fill="none"/>
<path d="M445 208H452L457 213V220L452 225H445L440 220V213z" fill="#ff0000"/>
<text x="559" y="241.8">100/0(1)</text>
<path d="M361 312H536" stroke="#0000ff" stroke-width="2.4" fill="none"/>
<path d="M437 318.6L460 318.6L448.5 298.6z" fill="#0000ff"/>
<text x="559" y="337">100/0(2)</text>
<path d="M361 405.8H536" stroke="#008080" stroke-width="2.4" fill="none"/>
<path d="M437 399L460 399L448.5 419z" fill="#008080"/>
<text x="559" y="431">100/0(5)</text>
<path d="M361 502H536" stroke="#ff00ff" stroke-width="2.4" fill="none"/>
<path d="M439.2 501.5L449.5 488.5L459.8 501.5L449.5 514.5z" fill="#ff00ff"/>
<text x="559" y="526.6">100/0 (10)</text>
</g>
</svg>
</body></html>
